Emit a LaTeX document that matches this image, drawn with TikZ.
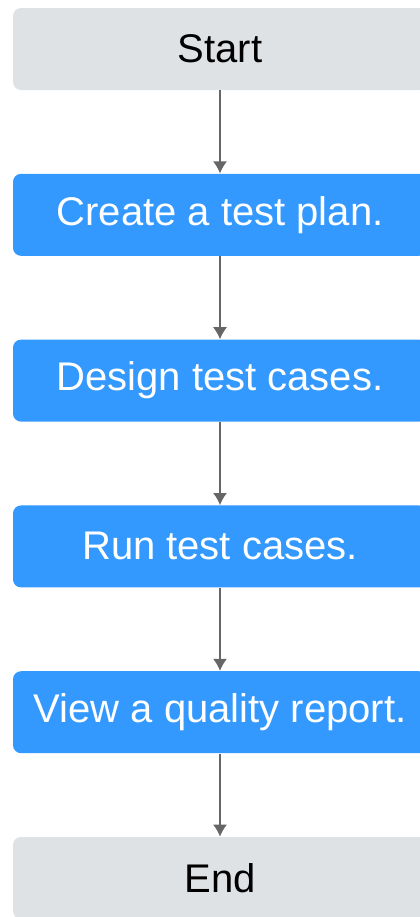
\documentclass[tikz,border=0pt]{standalone}
\usepackage{fontspec}
\setmainfont{Liberation Sans}
\usetikzlibrary{arrows.meta, positioning}
\definecolor{stepgrey}{HTML}{DFE2E5}
\definecolor{stepblue}{HTML}{3399FF}
\definecolor{linegrey}{HTML}{666666}

\begin{document}
\begin{tikzpicture}
[node distance=41.5pt,
block_term/.style ={ rectangle, draw=none, fill=stepgrey, align=center, minimum width=207pt, minimum height=41pt, inner sep=0pt, rounded corners=4pt, font=\fontsize{20}{24}\selectfont, text=black},
block_step/.style ={ block_term, fill=stepblue, text=white},
line_inner/.style ={draw=linegrey, line width=0.6pt, -{Latex[length=6pt,width=7pt]}}]

\useasboundingbox (0,0) rectangle (209.5pt,-458.5pt);

% Knoten
\node [block_term] (start) at (110pt,-24.5pt) {Start};
\node [block_step, below=of start] (plan) {Create a test plan.};
\node [block_step, below=of plan] (design) {Design test cases.};
\node [block_step, below=of design] (run) {Run test cases.};
\node [block_step, below=of run] (report) {View a quality report.};
\node [block_term, below=of report] (end) {End};

%%Pfeile%%%
\draw [line_inner](start) to (plan);
\draw [line_inner](plan) to (design);
\draw [line_inner](design) to (run);
\draw [line_inner](run) to (report);
\draw [line_inner](report) to (end);

\end{tikzpicture}
\end{document}
